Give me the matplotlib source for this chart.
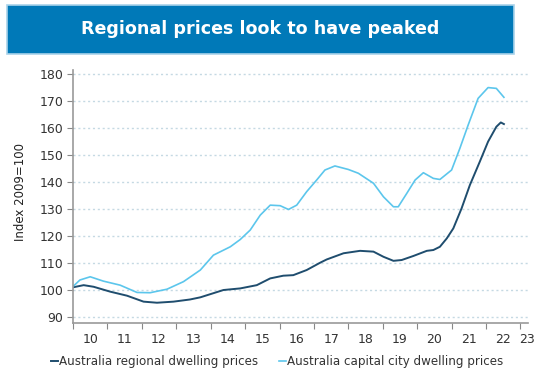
import matplotlib.pyplot as plt
import matplotlib.patches as mpatches

# decimal year, value
capital_x = [2010.0, 2010.2, 2010.5, 2010.88, 2011.37, 2011.86, 2012.24, 2012.73,
             2013.21, 2013.7, 2014.08, 2014.57, 2014.86, 2015.15, 2015.44, 2015.73,
             2016.02, 2016.26, 2016.5, 2016.79, 2017.08, 2017.32, 2017.61, 2018.0,
             2018.29, 2018.73, 2019.02, 2019.31, 2019.45, 2019.7, 2019.94, 2020.18,
             2020.47, 2020.66, 2021.0, 2021.24, 2021.48, 2021.77, 2022.06, 2022.3,
             2022.52]
capital_y = [101.2, 103.6, 104.8, 103.2, 101.7, 99.0, 98.9, 100.2,
             103.0, 107.3, 112.8, 115.9, 118.6, 122.1, 127.6, 131.3,
             131.1, 129.7, 131.3, 136.3, 140.6, 144.3, 145.8, 144.5,
             143.1, 139.4, 134.4, 130.7, 130.7, 135.7, 140.6, 143.3,
             141.2, 140.8, 144.3, 152.3, 160.9, 170.8, 174.8, 174.5,
             171.2]

regional_x = [2010.0, 2010.31, 2010.6, 2011.08, 2011.57, 2012.05, 2012.44, 2012.92,
              2013.4, 2013.7, 2014.37, 2014.86, 2015.34, 2015.73, 2016.11, 2016.4,
              2016.79, 2017.18, 2017.37, 2017.86, 2018.34, 2018.73, 2019.02, 2019.31,
              2019.55, 2019.89, 2020.28, 2020.47, 2020.66, 2020.86, 2021.05, 2021.29,
              2021.53, 2021.82, 2022.06, 2022.3, 2022.43, 2022.52]
regional_y = [100.9, 101.7, 101.1, 99.3, 97.8, 95.6, 95.2, 95.6,
              96.4, 97.2, 99.9, 100.5, 101.7, 104.2, 105.2, 105.4,
              107.3, 110.0, 111.2, 113.5, 114.4, 114.1, 112.2, 110.7,
              111.0, 112.5, 114.4, 114.7, 115.9, 119.0, 122.7, 130.1,
              138.7, 147.4, 154.8, 160.3, 161.9, 161.3]

years = list(range(2010, 2024))
year_labels = [str(y % 100) for y in years]

dark = "#1f4d6e"
light = "#5cc6ec"

fig = plt.figure(figsize=(5.55, 3.74), dpi=100)

# title banner
fig.patches.append(mpatches.Rectangle((7 / 555, 1 - 54 / 374), 507 / 555, 49 / 374,
                                      transform=fig.transFigure, facecolor="#0079b8",
                                      edgecolor="#a9d3ea", linewidth=1.2))
fig.text(260 / 555, 1 - 29 / 374, "Regional prices look to have peaked",
         ha="center", va="center", color="white", fontsize=12.6, fontweight="bold")

ax = fig.add_axes([73 / 555, 1 - 323 / 374, 455 / 555, 253 / 374])
ax.plot(regional_x, regional_y, color=dark, lw=1.4, solid_joinstyle="round",
        label="Australia regional dwelling prices")
ax.plot(capital_x, capital_y, color=light, lw=1.2, solid_joinstyle="round",
        label="Australia capital city dwelling prices")

ax.set_xlim(2010.0, 2023.22)
ax.set_ylim(87.7, 181.3)
ax.set_yticks(range(90, 190, 10))
ax.set_xticks(years)
ax.set_xticklabels([])
ax.set_xticks([y + 0.5 for y in years[:-1]] + [2023.2], minor=True)
ax.set_xticklabels(year_labels, minor=True)
ax.tick_params(axis="x", which="minor", length=0, pad=7)
ax.tick_params(axis="x", which="major", length=4, color="#888888", direction="out")
ax.tick_params(axis="y", length=4, color="#888888", pad=3)
ax.tick_params(axis="both", which="both", labelsize=9, labelcolor="#333333")

ax.grid(axis="y", color="#c5d9e3", linestyle=(0, (1.5, 2)), linewidth=1)
ax.set_axisbelow(True)
for s in ("top", "right"):
    ax.spines[s].set_visible(False)
for s in ("left", "bottom"):
    ax.spines[s].set_color("#999999")
    ax.spines[s].set_linewidth(1.2)

fig.text(21 / 555, 1 - 192 / 374, "Index 2009=100", rotation=90, ha="center",
         va="center", fontsize=8.5, color="#222222")

ax.legend(loc="center left", bbox_to_anchor=(40 / 555, 1 - 362 / 374),
          bbox_transform=fig.transFigure, ncol=2, frameon=False, fontsize=8.6,
          handlelength=0.6, handletextpad=0.1, columnspacing=1.7, labelcolor="#333333")

fig.savefig("out.png", dpi=100)
